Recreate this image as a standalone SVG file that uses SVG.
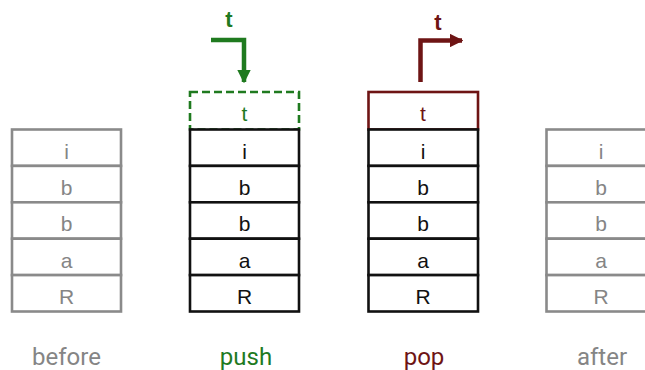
<svg xmlns="http://www.w3.org/2000/svg" width="645" height="370" viewBox="0 0 645 370">
<defs>
<style>
.cell{fill:#fff;stroke-width:2.6}
.g .cell{stroke:#8a8a8a}
.k .cell{stroke:#111}
text{font-family:Roboto,"Liberation Sans",sans-serif;text-anchor:middle}
.lt{font-family:"Liberation Sans",Arial,sans-serif;font-size:21px}
.tt{font-family:"Liberation Sans",Arial,sans-serif;font-size:22px;font-weight:bold}
.g text{fill:#858585}
.k text{fill:#111}
.lbl{font-size:24px}
text.green,.k text.green{fill:#1f7a1f}
text.red,.k text.red{fill:#6e1414}
.gray{fill:#858585}
</style>
<marker id="ag" viewBox="0 0 10 10" refX="9" refY="5" markerWidth="3" markerHeight="3" orient="auto" markerUnits="strokeWidth"><path d="M0,0 L10,5 L0,10 Z" fill="#1f7a1f"/></marker>
<marker id="ar" viewBox="0 0 10 10" refX="9" refY="5" markerWidth="3" markerHeight="3" orient="auto" markerUnits="strokeWidth"><path d="M0,0 L10,5 L0,10 Z" fill="#6e1414"/></marker>
</defs>
<rect width="645" height="370" fill="#fff"/>

<g id="before" class="g">
<rect class="cell" x="12" y="129.5" width="109" height="36.4"/>
<rect class="cell" x="12" y="165.9" width="109" height="36.4"/>
<rect class="cell" x="12" y="202.3" width="109" height="36.4"/>
<rect class="cell" x="12" y="238.7" width="109" height="36.4"/>
<rect class="cell" x="12" y="275.1" width="109" height="36.4"/>
<text class="lt" x="66.5" y="158.5">i</text>
<text class="lt" x="66.5" y="194.9">b</text>
<text class="lt" x="66.5" y="231.3">b</text>
<text class="lt" x="66.5" y="267.7">a</text>
<text class="lt" x="66.5" y="304">R</text>
</g>

<g id="push" class="k">
<rect x="190" y="92" width="109" height="37.5" fill="#fff" stroke="#1f7a1f" stroke-width="2.6" stroke-dasharray="8,4"/>
<text class="lt green" x="244.5" y="120.5">t</text>
<rect class="cell" x="190" y="129.5" width="109" height="36.4"/>
<rect class="cell" x="190" y="165.9" width="109" height="36.4"/>
<rect class="cell" x="190" y="202.3" width="109" height="36.4"/>
<rect class="cell" x="190" y="238.7" width="109" height="36.4"/>
<rect class="cell" x="190" y="275.1" width="109" height="36.4"/>
<text class="lt" x="244.5" y="158.5">i</text>
<text class="lt" x="244.5" y="194.9">b</text>
<text class="lt" x="244.5" y="231.3">b</text>
<text class="lt" x="244.5" y="267.7">a</text>
<text class="lt" x="244.5" y="304">R</text>
</g>

<g id="pop" class="k">
<rect x="368.5" y="92" width="109.5" height="37.5" fill="#fff" stroke="#6e1414" stroke-width="2.6"/>
<text class="lt red" x="423" y="120.5">t</text>
<rect class="cell" x="368.5" y="129.5" width="109.5" height="36.4"/>
<rect class="cell" x="368.5" y="165.9" width="109.5" height="36.4"/>
<rect class="cell" x="368.5" y="202.3" width="109.5" height="36.4"/>
<rect class="cell" x="368.5" y="238.7" width="109.5" height="36.4"/>
<rect class="cell" x="368.5" y="275.1" width="109.5" height="36.4"/>
<text class="lt" x="423" y="158.5">i</text>
<text class="lt" x="423" y="194.9">b</text>
<text class="lt" x="423" y="231.3">b</text>
<text class="lt" x="423" y="267.7">a</text>
<text class="lt" x="423" y="304">R</text>
</g>

<g id="after" class="g">
<rect class="cell" x="546.5" y="129.5" width="109" height="36.4"/>
<rect class="cell" x="546.5" y="165.9" width="109" height="36.4"/>
<rect class="cell" x="546.5" y="202.3" width="109" height="36.4"/>
<rect class="cell" x="546.5" y="238.7" width="109" height="36.4"/>
<rect class="cell" x="546.5" y="275.1" width="109" height="36.4"/>
<text class="lt" x="601" y="158.5">i</text>
<text class="lt" x="601" y="194.9">b</text>
<text class="lt" x="601" y="231.3">b</text>
<text class="lt" x="601" y="267.7">a</text>
<text class="lt" x="601" y="304">R</text>
</g>

<g id="connectors">
<path d="M211,40 H244 V82" fill="none" stroke="#1f7a1f" stroke-width="4.5" marker-end="url(#ag)"/>
<text class="tt green" x="229" y="27">t</text>
<path d="M420.5,82 V40.5 H462" fill="none" stroke="#6e1414" stroke-width="4.5" marker-end="url(#ar)"/>
<text class="tt red" x="438" y="30">t</text>
</g>

<g id="labels">
<text class="lbl gray" x="66.5" y="365">before</text>
<text class="lbl green" x="246" y="365">push</text>
<text class="lbl red" x="424" y="365">pop</text>
<text class="lbl gray" x="602" y="365">after</text>
</g>
</svg>
